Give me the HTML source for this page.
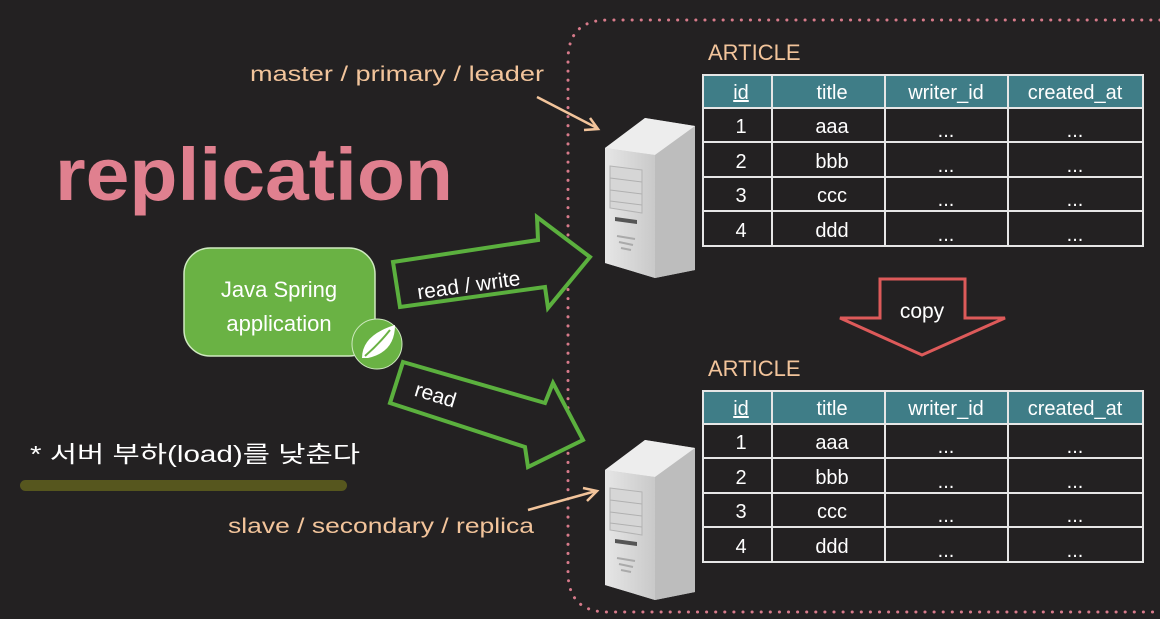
<!DOCTYPE html>
<html><head><meta charset="utf-8"><style>
html,body{margin:0;padding:0;background:#232122;}
svg{display:block}
text{font-family:"Liberation Sans","Noto Sans CJK KR",sans-serif}
</style></head><body>
<svg width="1160" height="619" viewBox="0 0 1160 619" xmlns="http://www.w3.org/2000/svg">
<defs>
<linearGradient id="srvF" x1="0" x2="1"><stop offset="0" stop-color="#e6e6e6"/><stop offset="1" stop-color="#c9c9c9"/></linearGradient>
<g id="server">
  <polygon points="0,30 40,0 90,8 90,152 50,160 0,145" fill="#cfcfcf"/>
  <polygon points="0,30 40,0 90,8 50,37" fill="#ededed"/>
  <polygon points="50,37 90,8 90,152 50,160" fill="#bdbdbd"/>
  <polygon points="0,30 50,37 50,160 0,145" fill="url(#srvF)"/>
  <polygon points="5,48 37,52 37,95 5,90" fill="#d6d6d6" stroke="#b3b3b3"/>
  <line x1="5" y1="60" x2="37" y2="64" stroke="#b0b0b0"/>
  <line x1="5" y1="72" x2="37" y2="76" stroke="#b0b0b0"/>
  <line x1="5" y1="83" x2="37" y2="87" stroke="#b0b0b0"/>
  <polygon points="10,99 32,102 32,106 10,103" fill="#555"/>
  <line x1="12" y1="118" x2="30" y2="121" stroke="#aaa" stroke-width="2"/>
  <line x1="14" y1="124" x2="28" y2="127" stroke="#aaa" stroke-width="2"/>
  <line x1="16" y1="130" x2="26" y2="132" stroke="#aaa" stroke-width="2"/>
</g>
</defs>

<path d="M1160,20 L608,20 Q568,20 568,60 L568,572 Q568,612 608,612 L1160,612" fill="none" stroke="#d77a8a" stroke-width="3" stroke-dasharray="0.1 9" stroke-linecap="round"/>

<text x="55" y="200" font-size="74" font-weight="bold" fill="#e0808f" textLength="398" lengthAdjust="spacingAndGlyphs">replication</text>

<text x="250" y="81" font-size="21" fill="#f2c49b" textLength="294" lengthAdjust="spacingAndGlyphs">master / primary / leader</text>
<line x1="537" y1="97" x2="597" y2="128" stroke="#f2c49b" stroke-width="2.5"/>
<polyline points="584,130 598,129 590,118" fill="none" stroke="#f2c49b" stroke-width="2.5"/>

<text x="228" y="533" font-size="21" fill="#f2c49b" textLength="306" lengthAdjust="spacingAndGlyphs">slave / secondary / replica</text>
<line x1="528" y1="510" x2="596" y2="491" stroke="#f2c49b" stroke-width="2.5"/>
<polyline points="583,488 597,491 587,501" fill="none" stroke="#f2c49b" stroke-width="2.5"/>

<text x="30" y="462" font-size="23" fill="#ffffff" textLength="330" lengthAdjust="spacingAndGlyphs">* 서버 부하(load)를 낮춘다</text>
<rect x="20" y="480" width="327" height="11" rx="5.5" fill="#56561e"/>

<rect x="184" y="248" width="191" height="108" rx="26" fill="#6ab244" stroke="#cfe9c0" stroke-width="1.5"/>
<text x="279" y="297" font-size="22" fill="#fff" text-anchor="middle">Java Spring</text>
<text x="279" y="331" font-size="22" fill="#fff" text-anchor="middle">application</text>
<circle cx="377" cy="344" r="25" fill="#6ab244" stroke="#cfe9c0" stroke-width="1"/>
<path d="M362,358 Q362,335 395,325 Q395,352 368,358 Z" fill="#fff"/>
<path d="M365,356 Q378,345 390,330" fill="none" stroke="#6ab244" stroke-width="2"/>

<polygon points="393,262 538,240 537,217 590,257 548,308 545,287 400,307" fill="#232122" stroke="#5bb03e" stroke-width="4"/>
<text x="416" y="292" font-size="21" fill="#fff" transform="rotate(-8 470 280)">read / write</text>
<polygon points="403,362 545,403 553,383 583,440 528,467 525,447 390,403" fill="#232122" stroke="#5bb03e" stroke-width="4"/>
<text x="413" y="402" font-size="21" fill="#fff" transform="rotate(17 435 400)">read</text>

<polygon points="880,279 965,279 965,318 1005,318 922,355 840,318 880,318" fill="#232122" stroke="#dd5a5a" stroke-width="3"/>
<text x="922" y="318" font-size="21" fill="#fff" text-anchor="middle">copy</text>

<use href="#server" x="605" y="118"/>
<use href="#server" x="605" y="440"/>

<g id="t1">
<text x="708" y="60" font-size="22" fill="#f2c49b">ARTICLE</text>
<rect x="703" y="75" width="440" height="33" fill="#3f7d87"/>
<g stroke="#e6e6e6" stroke-width="2" fill="none">
<rect x="703" y="75" width="440" height="171"/>
<line x1="703" y1="108" x2="1143" y2="108"/><line x1="703" y1="142" x2="1143" y2="142"/><line x1="703" y1="177" x2="1143" y2="177"/><line x1="703" y1="211" x2="1143" y2="211"/>
<line x1="772" y1="75" x2="772" y2="246"/><line x1="885" y1="75" x2="885" y2="246"/><line x1="1008" y1="75" x2="1008" y2="246"/>
</g>
<g font-size="20" fill="#fff" text-anchor="middle">
<text x="741" y="99" text-decoration="underline">id</text><text x="832" y="99">title</text><text x="946" y="99">writer_id</text><text x="1075" y="99">created_at</text>
<text x="741" y="133">1</text><text x="832" y="133">aaa</text><text x="946" y="137">...</text><text x="1075" y="137">...</text>
<text x="741" y="168">2</text><text x="832" y="168">bbb</text><text x="946" y="172">...</text><text x="1075" y="172">...</text>
<text x="741" y="202">3</text><text x="832" y="202">ccc</text><text x="946" y="206">...</text><text x="1075" y="206">...</text>
<text x="741" y="237">4</text><text x="832" y="237">ddd</text><text x="946" y="241">...</text><text x="1075" y="241">...</text>
</g>
</g>
<use href="#t1" x="0" y="316"/>
</svg>
</body></html>
